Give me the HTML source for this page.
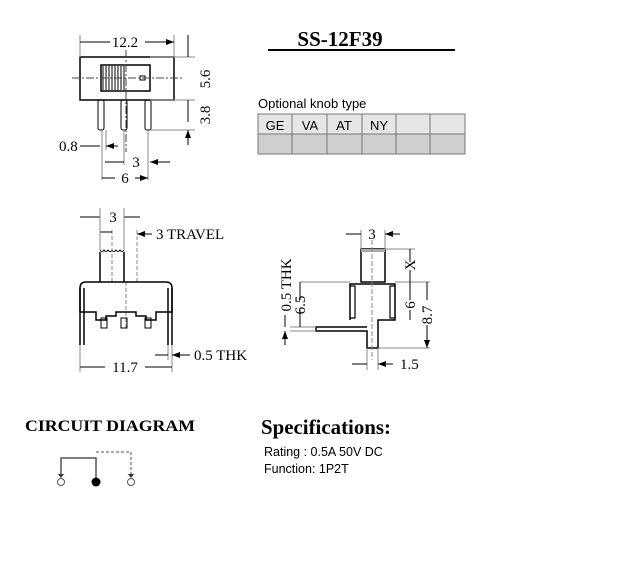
<!DOCTYPE html>
<html><head><meta charset="utf-8"><style>
body{margin:0;background:#fff;}
svg{display:block;}
.s{font-family:"Liberation Serif",serif;}
.a{font-family:"Liberation Sans",sans-serif;}
</style></head><body>
<svg width="617" height="567" viewBox="0 0 617 567" xmlns="http://www.w3.org/2000/svg">
<defs><marker id="ar" markerWidth="8" markerHeight="6" refX="8" refY="3" orient="auto" markerUnits="userSpaceOnUse"><path d="M0,0 L8,3 L0,6 Z" fill="#000"/></marker></defs>
<g stroke="#000" fill="none" stroke-width="1">
<rect x="80" y="57" width="94" height="43" stroke-width="1.5"/>
<rect x="101" y="65" width="49" height="26" stroke-width="1.5"/>
<path d="M103,66v24M106,66v24M109,66v24M112,66v24M115,66v24M118,66v24M121,66v24M124,66v24"/>
<rect x="140" y="76" width="5" height="4"/>
<path d="M72,78H182M126,50V152" stroke-dasharray="8,2,2,2" stroke="#444"/>
<rect x="98" y="100" width="6" height="30" rx="2"/>
<rect x="121" y="100" width="6" height="30" rx="2"/>
<rect x="145" y="100" width="6" height="30" rx="2"/>
<path d="M80,35V57M174,35V57" stroke="#888"/>
<path d="M110,42H80M145,42H174" marker-end="url(#ar)"/>
<path d="M150,100H195M150,130H195M150,57H195" stroke="#888"/>
<path d="M188,35V57M188,122V100M188,145V130" marker-end="url(#ar)"/>
<path d="M102,130V180M106,130V150M124,130V165M148,130V180" stroke="#888"/>
<path d="M80,146H100M118,146H106" marker-end="url(#ar)"/>
<path d="M105,162H124M170,162H150" marker-end="url(#ar)"/>
<path d="M115,178H102M135,178H148" marker-end="url(#ar)"/>
<path d="M100,282V252M124,282V252" stroke-width="1.5"/>
<path d="M100,250q2,3 4,0q2,3 4,0q2,3 4,0q2,3 4,0q2,3 4,0q2,3 4,0" stroke-width="1"/>
<path d="M112,230V282M137,230V282M126,282V330" stroke="#888" stroke-dasharray="4,2"/>
<path d="M80,288Q80,282 86,282H166Q172,282 172,288V312H156V320H146V316H136V312H116V316H106V320H96V312H80Z" stroke-width="1.5"/>
<path d="M80,288V345M84,288V345M168,288V345M172,288V345" stroke-width="1.5"/>
<rect x="101" y="318" width="6" height="10"/><rect x="121" y="318" width="6" height="10"/><rect x="145" y="318" width="6" height="10"/>
<path d="M80,345V372M172,345V372M168,345V360" stroke="#888"/>
<path d="M80,217H100M140,217H124M100,232H112M152,234H137" marker-end="url(#ar)"/>
<path d="M100,208V250M124,208V250" stroke="#888"/>
<path d="M105,367H80M145,367H172M155,355H168M190,355H172" marker-end="url(#ar)"/>
<rect x="361" y="249" width="24" height="33" stroke-width="1.5"/>
<rect x="361" y="249" width="24" height="3" fill="#aaa" stroke="none"/>
<path d="M350,320V284H395V320H378V348H367V331H316V327H367" stroke-width="1.5"/>
<path d="M350,286h5v32h-5M395,286h-5v32h5" stroke-width="1.2"/>
<path d="M372,240V360" stroke="#888" stroke-dasharray="5,2"/>
<path d="M385,249H415M395,282H430M378,348H430M300,282H350M290,331H316M290,327H316M361,230V249M385,230V249M367,348V370M378,348V370" stroke="#888"/>
<path d="M346,234H361M400,234H385" marker-end="url(#ar)"/>
<path d="M410,262V249M410,270V282M410,300V282M410,310V320M427,300V282M427,325V348" marker-end="url(#ar)"/>
<path d="M300,300V282M300,310V327M285,315V327M285,345V331" marker-end="url(#ar)"/>
<path d="M352,364H367M393,364H378" marker-end="url(#ar)"/>
<path d="M96,478V458H61V477M96,458" stroke="#555" stroke-width="1.5"/>
<path d="M96,452H131V477" stroke="#555" stroke-dasharray="3,2"/>
<circle cx="61" cy="482" r="3.5" stroke="#555"/>
<circle cx="96" cy="482" r="4" fill="#000"/>
<circle cx="131" cy="482" r="3.5" stroke="#555"/>
</g>
<path d="M58,474l3,4l3,-4zM128,474l3,4l3,-4z" fill="#333"/>
<g class="s" font-size="15" fill="#000">
<text x="125" y="47" text-anchor="middle">12.2</text>
<text transform="translate(210,79) rotate(-90)" text-anchor="middle">5.6</text>
<text transform="translate(210,115) rotate(-90)" text-anchor="middle">3.8</text>
<text x="59" y="151">0.8</text>
<text x="136" y="167" text-anchor="middle">3</text>
<text x="125" y="183" text-anchor="middle">6</text>
<text x="113" y="222" text-anchor="middle">3</text>
<text x="156" y="239">3 TRAVEL</text>
<text x="125" y="372" text-anchor="middle">11.7</text>
<text x="194" y="360">0.5 THK</text>
<text x="372" y="239" text-anchor="middle">3</text>
<text transform="translate(415,265) rotate(-90)" text-anchor="middle">X</text>
<text transform="translate(415,305) rotate(-90)" text-anchor="middle">6</text>
<text transform="translate(432,315) rotate(-90)" text-anchor="middle">8.7</text>
<text transform="translate(291,285) rotate(-90)" text-anchor="middle">0.5 THK</text>
<text transform="translate(305,305) rotate(-90)" text-anchor="middle">6.5</text>
<text x="400" y="369">1.5</text>
</g>
<text class="s" x="340" y="46" font-size="21" font-weight="bold" text-anchor="middle">SS-12F39</text>
<rect x="268" y="49" width="187" height="2" fill="#000"/>
<text class="a" x="258" y="108" font-size="13">Optional knob type</text>
<rect x="258" y="114" width="207" height="20" fill="#e6e6e6"/>
<rect x="258" y="134" width="207" height="20" fill="#cfcfcf"/>
<g stroke="#777" fill="none"><rect x="258" y="114" width="207" height="40"/><path d="M258,134H465M292,114V154M327,114V154M362,114V154M396,114V154M430,114V154"/></g>
<g class="a" font-size="13" text-anchor="middle"><text x="275" y="130">GE</text><text x="310" y="130">VA</text><text x="344" y="130">AT</text><text x="379" y="130">NY</text></g>
<text class="s" x="25" y="431" font-size="16" font-weight="bold" textLength="170" lengthAdjust="spacingAndGlyphs">CIRCUIT DIAGRAM</text>
<text class="s" x="261" y="434" font-size="21" font-weight="bold" textLength="130" lengthAdjust="spacingAndGlyphs">Specifications:</text>
<text class="a" x="264" y="456" font-size="12.5">Rating : 0.5A 50V DC</text>
<text class="a" x="264" y="473" font-size="12.5">Function: 1P2T</text>
</svg>
</body></html>
